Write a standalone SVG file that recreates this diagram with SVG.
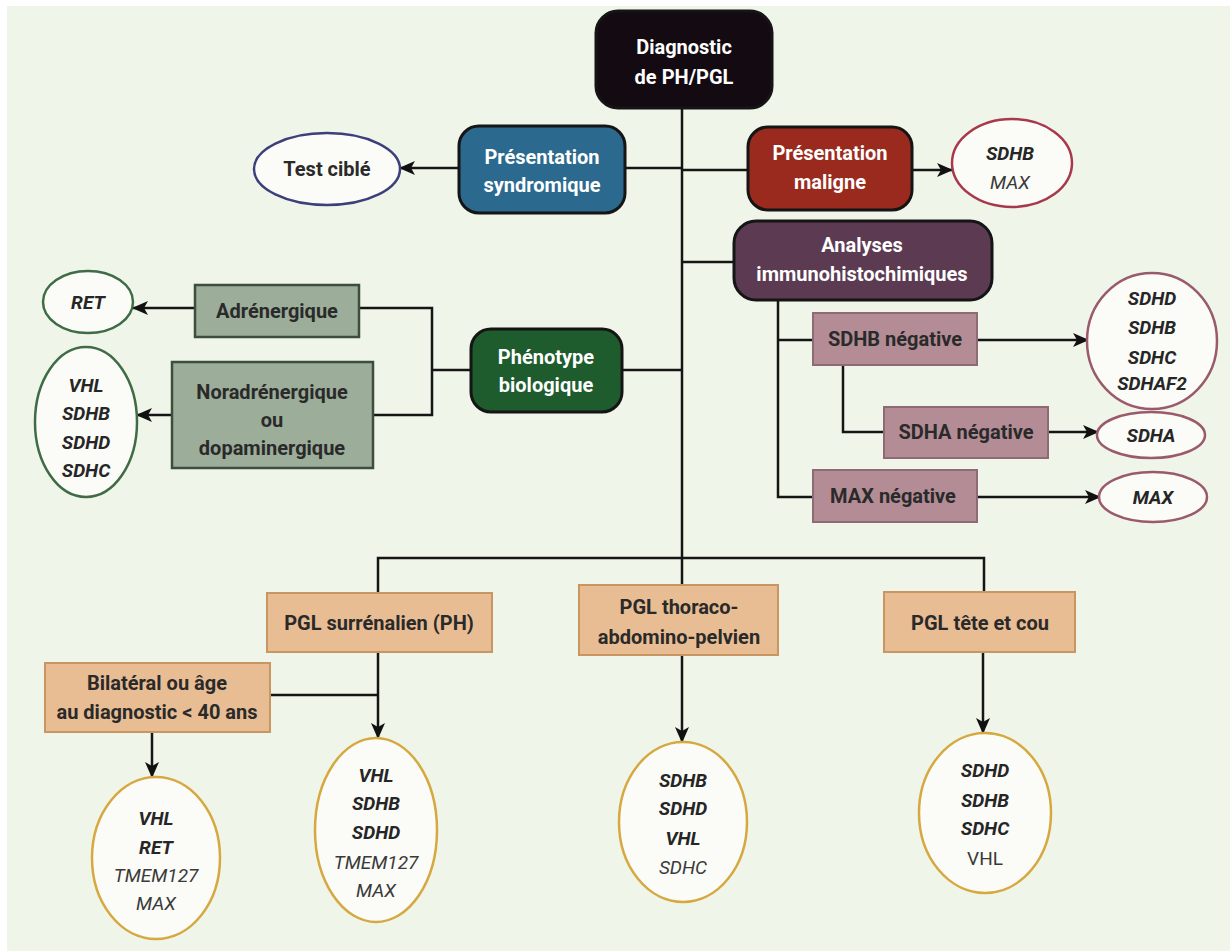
<svg xmlns="http://www.w3.org/2000/svg" width="1230" height="951" viewBox="0 0 1230 951">
<defs>
<marker id="arr" viewBox="0 0 16 14" refX="15" refY="7" markerWidth="16" markerHeight="14" markerUnits="userSpaceOnUse" orient="auto">
<path d="M0,0 L16,7 L0,14 L4,7 z" fill="#111"/>
</marker>
<style>
text{font-family:Roboto,"Liberation Sans",sans-serif;text-anchor:middle}
.w{fill:#fff;font-weight:700;font-size:20px}
.d{fill:#2a2a2a;font-weight:700;font-size:20px}
.g{fill:#262626;font-weight:700;font-style:italic;font-size:19px}
.l{fill:#3a3a3a;font-weight:400;font-style:italic;font-size:19px}
.n{fill:#3a3a3a;font-weight:400;font-size:19px}
.rb{stroke:#151515;stroke-width:3}
.gr{fill:#9cad9a;stroke:#3e4e3e;stroke-width:2.5}
.mv{fill:#b38c96;stroke:#8e6a74;stroke-width:2}
.tn{fill:#e9bd93;stroke:#c99662;stroke-width:2}
.el{fill:#fbfcf8;stroke-width:2.5}
.c line,.c path{stroke:#151515;stroke-width:2.5;fill:none}
</style>
</defs>
<rect x="0" y="0" width="1230" height="951" fill="#ffffff"/>
<rect x="7" y="6" width="1223" height="945" fill="#eff5e8"/>

<g class="c" id="connectors">
<line x1="682" y1="108" x2="682" y2="585"/>
<line x1="682" y1="168" x2="625" y2="168"/>
<line x1="458" y1="168" x2="400" y2="168" marker-end="url(#arr)"/>
<line x1="682" y1="170" x2="747" y2="170"/>
<line x1="912" y1="170" x2="952" y2="170" marker-end="url(#arr)"/>
<line x1="682" y1="262" x2="733" y2="262"/>
<line x1="682" y1="370" x2="622" y2="370"/>
<line x1="470" y1="370" x2="432" y2="370"/>
<path d="M359,308 H432 V415 H373"/>
<line x1="195" y1="308" x2="133" y2="308" marker-end="url(#arr)"/>
<line x1="172" y1="415" x2="137" y2="415" marker-end="url(#arr)"/>
<path d="M778,300 V497 H813"/>
<line x1="778" y1="340" x2="813" y2="340"/>
<line x1="977" y1="340" x2="1088" y2="340" marker-end="url(#arr)"/>
<path d="M843,365 V432 H884"/>
<line x1="1048" y1="432" x2="1098" y2="432" marker-end="url(#arr)"/>
<line x1="977" y1="497" x2="1100" y2="497" marker-end="url(#arr)"/>
<path d="M378,593 V558 H984 V592"/>
<line x1="378" y1="652" x2="378" y2="738" marker-end="url(#arr)"/>
<line x1="270" y1="695" x2="378" y2="695"/>
<line x1="152" y1="732" x2="152" y2="777" marker-end="url(#arr)"/>
<line x1="682" y1="655" x2="682" y2="742" marker-end="url(#arr)"/>
<line x1="983" y1="652" x2="983" y2="733" marker-end="url(#arr)"/>
</g>

<g id="diagnostic">
<rect class="rb" x="596" y="11" width="176" height="97" rx="22" fill="#140a12"/>
<text class="w" x="684" y="54">Diagnostic</text>
<text class="w" x="684" y="84">de PH/PGL</text>
</g>
<g id="syndromique">
<rect class="rb" x="459" y="126" width="166" height="87" rx="20" fill="#2b6a8e"/>
<text class="w" x="542" y="164">Présentation</text>
<text class="w" x="542" y="192">syndromique</text>
</g>
<g id="test-cible">
<ellipse class="el" cx="327" cy="169" rx="73" ry="36" stroke="#3c3f7a"/>
<text class="d" x="327" y="176">Test ciblé</text>
</g>
<g id="maligne">
<rect class="rb" x="748" y="127" width="164" height="83" rx="20" fill="#9a2a1e"/>
<text class="w" x="830" y="160">Présentation</text>
<text class="w" x="830" y="189">maligne</text>
</g>
<g id="sdhb-max">
<ellipse class="el" cx="1012" cy="163" rx="60" ry="44" stroke="#a8394c"/>
<text class="g" x="1010" y="160">SDHB</text>
<text class="l" x="1010" y="189">MAX</text>
</g>
<g id="analyses">
<rect class="rb" x="734" y="221" width="258" height="79" rx="22" fill="#5b3a52"/>
<text class="w" x="862" y="252">Analyses</text>
<text class="w" x="862" y="281">immunohistochimiques</text>
</g>
<g id="phenotype">
<rect class="rb" x="471" y="329" width="151" height="83" rx="20" fill="#1e5b2d"/>
<text class="w" x="546" y="364">Phénotype</text>
<text class="w" x="546" y="392">biologique</text>
</g>
<g id="adrenergique">
<rect class="gr" x="195" y="285" width="164" height="52"/>
<text class="d" x="277" y="318">Adrénergique</text>
</g>
<g id="ret">
<ellipse class="el" cx="88" cy="302" rx="45" ry="31" stroke="#3f6b45"/>
<text class="g" x="88" y="309">RET</text>
</g>
<g id="noradrenergique">
<rect class="gr" x="172" y="362" width="201" height="106"/>
<text class="d" x="272" y="399">Noradrénergique</text>
<text class="d" x="272" y="427">ou</text>
<text class="d" x="272" y="455">dopaminergique</text>
</g>
<g id="genes-nora">
<ellipse class="el" cx="86" cy="422" rx="51" ry="75" stroke="#3f6b45"/>
<text class="g" x="86" y="392">VHL</text>
<text class="g" x="86" y="420">SDHB</text>
<text class="g" x="86" y="449">SDHD</text>
<text class="g" x="86" y="477">SDHC</text>
</g>
<g id="sdhb-neg">
<rect class="mv" x="813" y="313" width="164" height="52"/>
<text class="d" x="895" y="346">SDHB négative</text>
</g>
<g id="genes-sdhb">
<ellipse class="el" cx="1152" cy="341" rx="65" ry="68" stroke="#9b5a6a"/>
<text class="g" x="1152" y="305">SDHD</text>
<text class="g" x="1152" y="334">SDHB</text>
<text class="g" x="1152" y="364">SDHC</text>
<text class="g" x="1152" y="390">SDHAF2</text>
</g>
<g id="sdha-neg">
<rect class="mv" x="884" y="407" width="164" height="51"/>
<text class="d" x="966" y="439">SDHA négative</text>
</g>
<g id="sdha">
<ellipse class="el" cx="1151" cy="435" rx="54" ry="23" stroke="#9b5a6a"/>
<text class="g" x="1151" y="442">SDHA</text>
</g>
<g id="max-neg">
<rect class="mv" x="813" y="470" width="164" height="52"/>
<text class="d" x="893" y="503">MAX négative</text>
</g>
<g id="max">
<ellipse class="el" cx="1153" cy="497" rx="54" ry="25" stroke="#9b5a6a"/>
<text class="g" x="1153" y="504">MAX</text>
</g>
<g id="pgl-surrenalien">
<rect class="tn" x="267" y="593" width="225" height="59"/>
<text class="d" x="379" y="630">PGL surrénalien (PH)</text>
</g>
<g id="bilateral">
<rect class="tn" x="45" y="663" width="225" height="69"/>
<text class="d" x="157" y="690">Bilatéral ou âge</text>
<text class="d" x="157" y="719">au diagnostic &lt; 40 ans</text>
</g>
<g id="genes-bilateral">
<ellipse class="el" cx="156" cy="858" rx="64" ry="81" stroke="#d6a840"/>
<text class="g" x="156" y="825">VHL</text>
<text class="g" x="156" y="854">RET</text>
<text class="l" x="156" y="882">TMEM127</text>
<text class="l" x="156" y="910">MAX</text>
</g>
<g id="genes-surrenalien">
<ellipse class="el" cx="376" cy="830" rx="61" ry="92" stroke="#d6a840"/>
<text class="g" x="376" y="782">VHL</text>
<text class="g" x="376" y="810">SDHB</text>
<text class="g" x="376" y="839">SDHD</text>
<text class="l" x="376" y="869">TMEM127</text>
<text class="l" x="376" y="897">MAX</text>
</g>
<g id="pgl-thoraco">
<rect class="tn" x="579" y="585" width="199" height="70"/>
<text class="d" x="679" y="614">PGL thoraco-</text>
<text class="d" x="679" y="644">abdomino-pelvien</text>
</g>
<g id="genes-thoraco">
<ellipse class="el" cx="683" cy="822" rx="64" ry="80" stroke="#d6a840"/>
<text class="g" x="683" y="787">SDHB</text>
<text class="g" x="683" y="815">SDHD</text>
<text class="g" x="683" y="845">VHL</text>
<text class="l" x="683" y="874">SDHC</text>
</g>
<g id="pgl-tete">
<rect class="tn" x="884" y="592" width="191" height="60"/>
<text class="d" x="980" y="630">PGL tête et cou</text>
</g>
<g id="genes-tete">
<ellipse class="el" cx="985" cy="813" rx="66" ry="80" stroke="#d6a840"/>
<text class="g" x="985" y="777">SDHD</text>
<text class="g" x="985" y="807">SDHB</text>
<text class="g" x="985" y="835">SDHC</text>
<text class="n" x="985" y="865">VHL</text>
</g>
</svg>
